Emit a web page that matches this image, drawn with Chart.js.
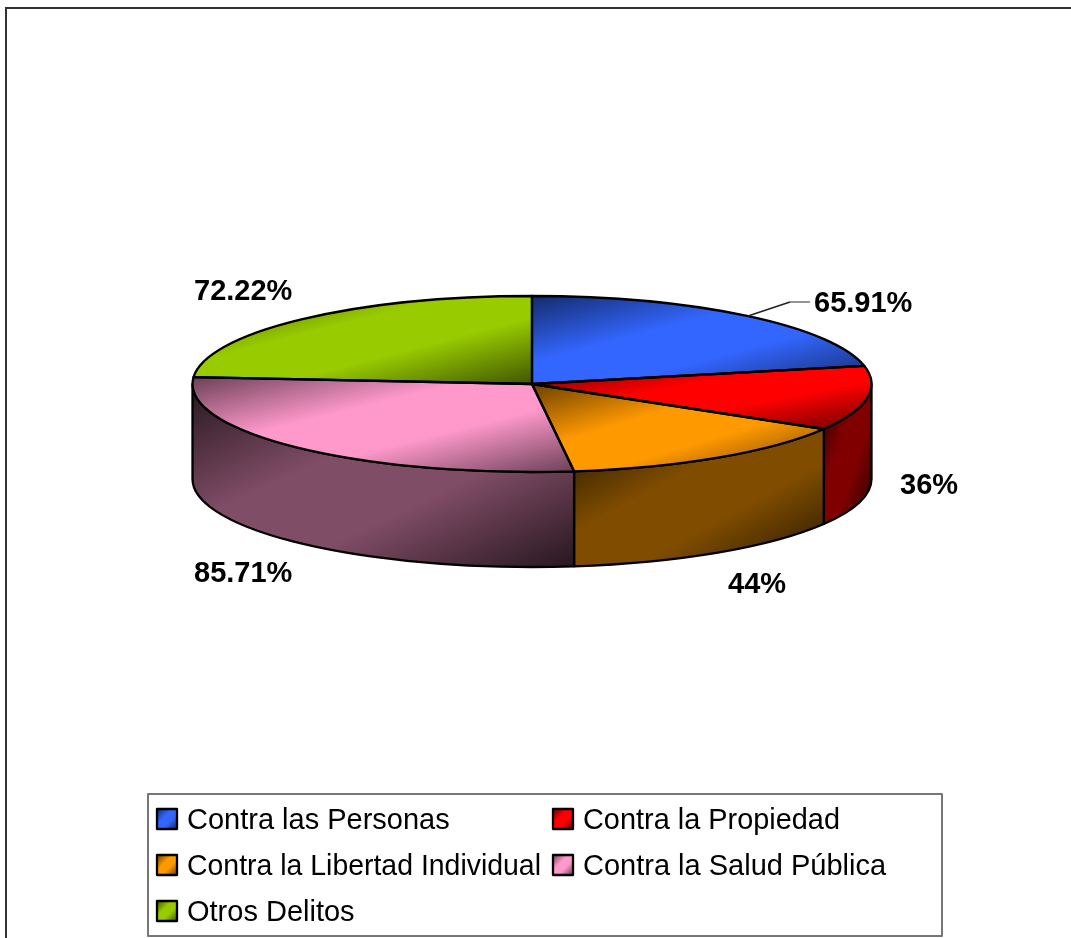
<!DOCTYPE html>
<html>
<head>
<meta charset="utf-8">
<style>html,body{margin:0;padding:0;background:#fff;overflow:hidden}canvas{display:block}</style>
<script src="https://cdn.jsdelivr.net/npm/chart.js@4/dist/chart.umd.js"></script>
</head>
<body>
<canvas id="c" width="1071" height="938"></canvas>
<script>
const categories = ["Contra las Personas", "Contra la Propiedad", "Contra la Libertad Individual", "Contra la Salud Pública", "Otros Delitos"];
const values = [65.91, 36, 44, 85.71, 72.22];
const colors = ["#3366FF", "#FF0000", "#FF9900", "#FF99CC", "#99CC00"];

const SQUASH = 88 / 339.5, DEPTH = 95;
const FONT = 'Liberation Sans, Arial, sans-serif';
const labelPos = [[814, 312], [900, 494], [728, 593], [194, 582], [194, 300]]; // left, baseline
const legendSlots = [[157, 829], [553, 829], [157, 875], [553, 875], [157, 921]];
const legendMaxWidth = [266, 257, 354, 304, 170];

function rgb(hex, f) {
  const n = parseInt(hex.slice(1), 16);
  return `rgb(${((n >> 16) & 255) * f},${((n >> 8) & 255) * f},${(n & 255) * f})`;
}
// diagonal-band gradient over a box, with isolines parallel to the box's anti-diagonal
function diagGradient(ctx, box, hex, mid, end) {
  const w = box.x1 - box.x0, h = box.y1 - box.y0, L = Math.hypot(w, h) || 1;
  const cx = (box.x0 + box.x1) / 2, cy = (box.y0 + box.y1) / 2;
  const d = w * h / L, nx = h / L, ny = w / L;
  const g = ctx.createLinearGradient(cx - nx * d, cy - ny * d, cx + nx * d, cy + ny * d);
  g.addColorStop(0, rgb(hex, mid * end));
  g.addColorStop(0.38, rgb(hex, mid));
  g.addColorStop(0.62, rgb(hex, mid));
  g.addColorStop(1, rgb(hex, mid * end));
  return g;
}
function sliceBox(a, k) { // bounding box of a slice in squashed space
  const { x, y, outerRadius: r, startAngle: s, endAngle: e } = a;
  const xs = [x, x + r * Math.cos(s), x + r * Math.cos(e)];
  const ys = [y, y + r * k * Math.sin(s), y + r * k * Math.sin(e)];
  for (let m = -2; m <= 4; m++) {
    const t = m * Math.PI / 2;
    if (t > s && t < e) { xs.push(x + r * Math.cos(t)); ys.push(y + r * k * Math.sin(t)); }
  }
  return { x0: Math.min(...xs), x1: Math.max(...xs), y0: Math.min(...ys), y1: Math.max(...ys) };
}

const pie3d = {
  id: 'pie3d',
  beforeDraw(chart) {
    const c = chart.ctx;
    c.save();
    c.fillStyle = '#fff'; c.fillRect(0, 0, chart.width, chart.height);
    c.strokeStyle = '#333'; c.lineWidth = 2;
    c.beginPath(); c.moveTo(6, chart.height); c.lineTo(6, 8); c.lineTo(chart.width, 8); c.stroke();
    c.restore();
  },
  beforeDatasetsDraw(chart) {
    const c = chart.ctx, arcs = chart.getDatasetMeta(0).data;
    // side walls, from the arc geometry the library computed
    arcs.forEach((a, i) => {
      const s = Math.max(a.startAngle, 0), e = Math.min(a.endAngle, Math.PI);
      if (e <= s) return;
      const rx = a.outerRadius, ry = rx * SQUASH;
      const bx = sliceBox(a, SQUASH);
      c.save();
      c.beginPath();
      c.ellipse(a.x, a.y, rx, ry, 0, s, e);
      c.ellipse(a.x, a.y + DEPTH, rx, ry, 0, e, s, true);
      c.closePath();
      const x0 = a.x + rx * Math.cos(e), x1 = a.x + rx * Math.cos(s);
      const wb = { x0: Math.min(x0, x1), x1: Math.max(x0, x1), y0: Math.min(a.y + ry * Math.sin(s), a.y + ry * Math.sin(e)), y1: Math.max(bx.y1, a.y + ry * Math.sin(s)) + DEPTH };
      c.fillStyle = diagGradient(c, wb, colors[i], 0.5, 0.3);
      c.fill();
      c.strokeStyle = '#000'; c.lineWidth = 2.3; c.lineJoin = 'round';
      c.stroke();
      c.restore();
    });
    // gradients for the library's own arcs: defined in unsquashed space
    arcs.forEach((a, i) => {
      const b = sliceBox(a, SQUASH);
      const u = { x0: b.x0, x1: b.x1, y0: a.y + (b.y0 - a.y) / SQUASH, y1: a.y + (b.y1 - a.y) / SQUASH };
      a.options.backgroundColor = diagGradient(c, u, colors[i], 1, 0.42);
    });
    const a0 = arcs[0];
    c.save();
    c.translate(0, a0.y); c.scale(1, SQUASH); c.translate(0, -a0.y);
  },
  afterDatasetsDraw(chart) {
    const c = chart.ctx, arcs = chart.getDatasetMeta(0).data;
    c.restore();
    c.save();
    c.strokeStyle = '#000'; c.lineWidth = 2.3; c.lineJoin = 'round';
    arcs.forEach(a => {
      c.beginPath();
      c.moveTo(a.x, a.y);
      c.ellipse(a.x, a.y, a.outerRadius, a.outerRadius * SQUASH, 0, a.startAngle, a.endAngle);
      c.closePath();
      c.stroke();
    });
    // leader line of the first label
    c.lineWidth = 1.4;
    c.beginPath(); c.moveTo(748, 316); c.lineTo(790, 302); c.strokeStyle = '#222'; c.stroke();
    c.beginPath(); c.moveTo(790, 302); c.lineTo(810, 302); c.strokeStyle = '#666'; c.stroke();
    // value labels
    c.fillStyle = '#000'; c.font = 'bold 29px ' + FONT; c.textBaseline = 'alphabetic'; c.textAlign = 'left';
    values.forEach((v, i) => c.fillText(v + '%', labelPos[i][0], labelPos[i][1]));
    // legend
    c.strokeStyle = '#777'; c.lineWidth = 2;
    c.strokeRect(148, 794, 794, 142);
    c.font = '29px ' + FONT;
    categories.forEach((t, i) => {
      const [x, base] = legendSlots[i], y = base - 20;
      c.fillStyle = diagGradient(c, { x0: x, x1: x + 20, y0: y, y1: y + 20 }, colors[i], 1, 0.4);
      c.fillRect(x, y, 20, 20);
      c.strokeStyle = '#000'; c.lineWidth = 2.3; c.strokeRect(x, y, 20, 20);
      c.fillStyle = '#000';
      c.fillText(t, x + 30, base, legendMaxWidth[i]);
    });
    c.restore();
  }
};

new Chart(document.getElementById('c'), {
  type: 'pie',
  data: { labels: categories, datasets: [{ data: values, backgroundColor: colors, borderWidth: 0, hoverOffset: 0, clip: false }] },
  options: {
    responsive: false, animation: false, events: [],
    layout: { padding: { left: 192.5, right: 199.5, top: 44.5, bottom: 214.5 } },
    plugins: { legend: { display: false }, tooltip: { enabled: false }, title: { display: false } }
  },
  plugins: [pie3d]
});
</script>
</body>
</html>
